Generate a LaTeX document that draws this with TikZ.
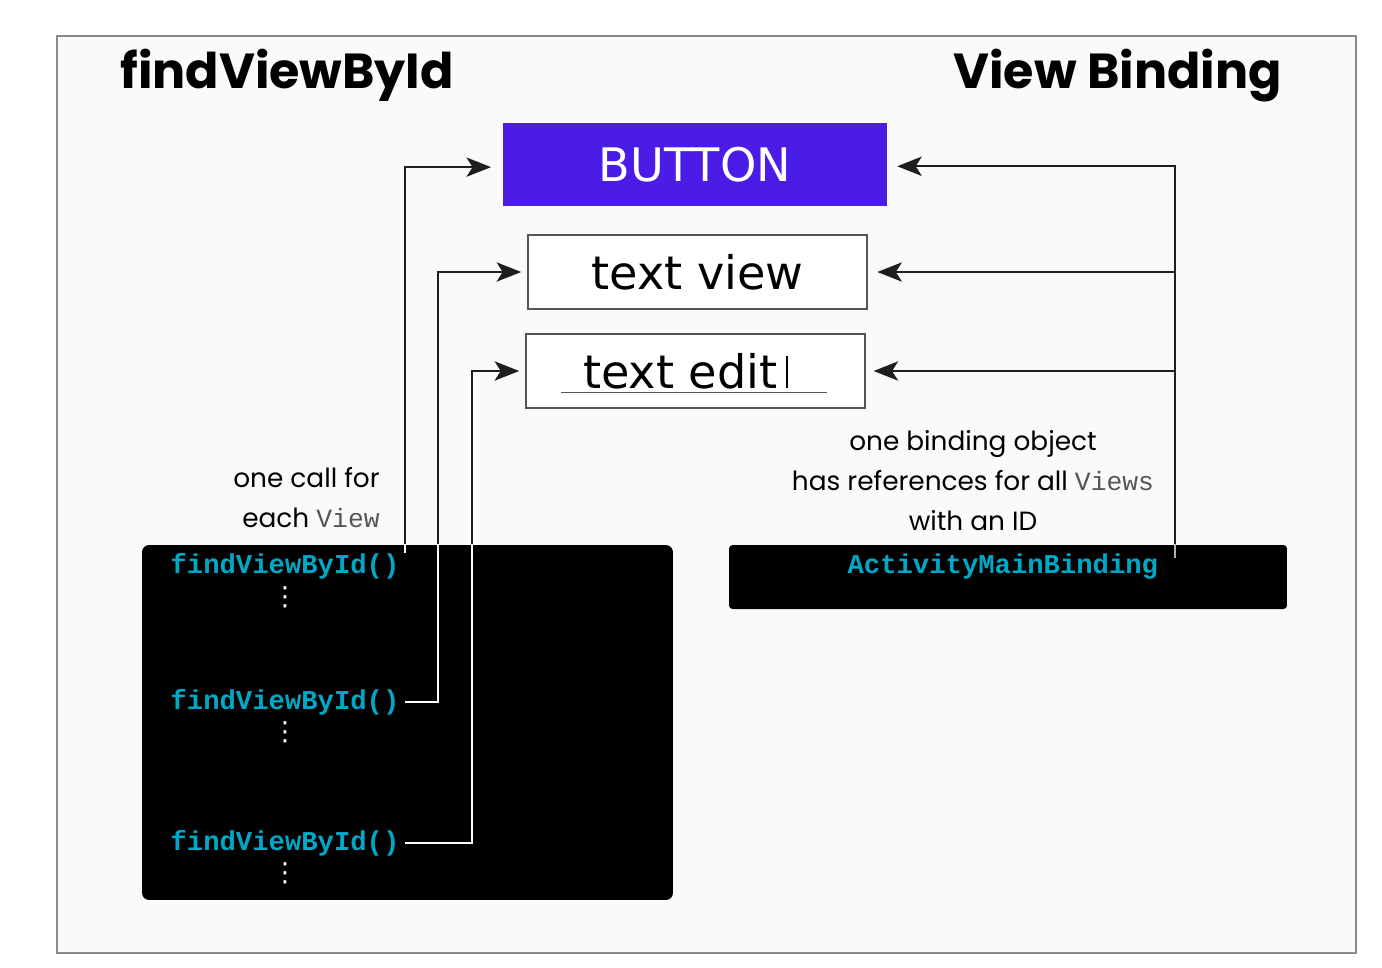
\documentclass[tikz,border=0pt]{standalone}
\usepackage{fontspec}
\setmainfont{DejaVu Sans}
\newfontfamily\popfont{Poppins}
\newfontfamily\codefont{Liberation Mono}
\usetikzlibrary{positioning, arrows.meta}
\definecolor{framegray}{HTML}{8A8A8A}
\definecolor{paper}{HTML}{FAFAFA}
\definecolor{btnblue}{HTML}{4A1CE6}
\definecolor{codecyan}{HTML}{00A8C8}
\definecolor{wiregray}{HTML}{1E1E1E}
\definecolor{viewgray}{HTML}{555555}

\begin{document}
\begin{tikzpicture}[x=0.02cm, y=-0.02cm,
		wire/.style = {draw=wiregray, line width=0.95pt},
		link/.style = {wire, -{Stealth[length=14pt, width=11pt, inset=3.5pt]}},
		title/.style = {font=\popfont\bfseries\fontsize{28}{32}\selectfont, inner sep=0pt},
		note/.style = {font=\popfont\fontsize{15}{22.5}\selectfont, inner sep=0pt},
		code/.style = {font=\codefont\bfseries\fontsize{15.5}{18}\selectfont, text=codecyan, inner sep=3pt},
		dots/.style = {font=\fontsize{15}{18}\selectfont, text=white, inner sep=0pt}
	]
	\tikzstyle{ViewBox} = [ %the three widgets
		draw=viewgray, 
		line width=0.8pt,
		fill=white,
		font=\fontsize{26.3}{30}\selectfont
	]
	\tikzstyle{CodeBox} = [
		fill=black,
		rounded corners=4pt
	]
	
	\useasboundingbox (0,0) rectangle (1382,967);
	\fill[white] (0,0) rectangle (1382,967);
	\draw[framegray, line width=1.1pt, fill=paper] (57,36) rectangle (1356,953);
	
	\node[title, anchor=base west] (headL) at (120,88) {findViewById};
	\node[title, anchor=base east] (headR) at (1282,88) {View Binding};
	
	\node (button) [ViewBox, draw=btnblue, fill=btnblue, text=white, minimum width=7.64cm, minimum height=1.62cm] at (695,164.5) {BUTTON};
	\node (tview) [ViewBox, minimum width=6.78cm, minimum height=1.48cm] at (697.5,272) {text view};
	\node (tedit) [ViewBox, minimum width=6.78cm, minimum height=1.48cm] at (695.5,371) {text edit\hspace{5pt}\rule{0.8pt}{18.5pt}\hspace*{11.5pt}};
	\draw[draw=viewgray, line width=0.6pt] ([xshift=20.4pt, yshift=9.1pt]tedit.south west) -- ([xshift=-22pt, yshift=9.1pt]tedit.south east);
	
	\node (fvbox) [CodeBox, minimum width=10.62cm, minimum height=7.1cm] at (407.5,722.5) {};
	\node (bindbox) [CodeBox, rounded corners=2pt, minimum width=11.16cm, minimum height=1.28cm] at (1008,577) {};
	
	\node[code, anchor=base west] (fvA) at (165,573) {findViewById()};
	\node[code, anchor=base west] (fvB) at (165,709) {findViewById()};
	\node[code, anchor=base west] (fvC) at (165,850) {findViewById()};
	\node[dots] (dotsA) at (285,597) {⋮};
	\node[dots] (dotsB) at (285,732) {⋮};
	\node[dots] (dotsC) at (285,873) {⋮};
	\node[code, anchor=base west] (bindname) at (842,573) {ActivityMainBinding};
	
	\node[note, anchor=base east, align=right] (callnote) at (380,527) {one call for\\each {\codefont\color{viewgray}View}};
	\node[note, anchor=base, align=center] (bindnote) at (973,530) {one binding object\\has references for all {\codefont\color{viewgray}Views}\\with an ID};
	
	% findViewById side
	\coordinate (tapA) at ([yshift=-3pt]fvA.north east);
	\coordinate (bendB) at (438,500);
	\coordinate (bendC) at (472,500);
	\draw[link, shorten >=7pt] (tapA) |- ([yshift=-1.5pt]button.west);
	\draw[link, shorten >=3.5pt] (fvB.east) -| (bendB) |- (tview.west);
	\draw[link, shorten >=3.5pt] (fvC.east) -| (bendC) |- (tedit.west);
	\begin{scope}
		\clip (fvbox.south west) rectangle (fvbox.north east);
		\draw[wire, draw=white] (tapA) |- ([yshift=-1.5pt]button.west);
		\draw[wire, draw=white] (fvB.east) -| (bendB) |- (tview.west);
		\draw[wire, draw=white] (fvC.east) -| (bendC) |- (tedit.west);
	\end{scope}
	
	% binding side
	\coordinate (tapR) at (1175,558);
	\draw[link, shorten >=6pt] (tapR) |- ([yshift=-1pt]button.east);
	\draw[link, shorten >=5.5pt] (tapR) |- (tview.east);
	\draw[link, shorten >=4.5pt] (tapR) |- (tedit.east);
	\begin{scope}
		\clip (bindbox.south west) rectangle (bindbox.north east);
		\draw[wire, draw=gray!60] (tapR) -- (tapR |- tedit.east);
	\end{scope}
\end{tikzpicture}
\end{document}
